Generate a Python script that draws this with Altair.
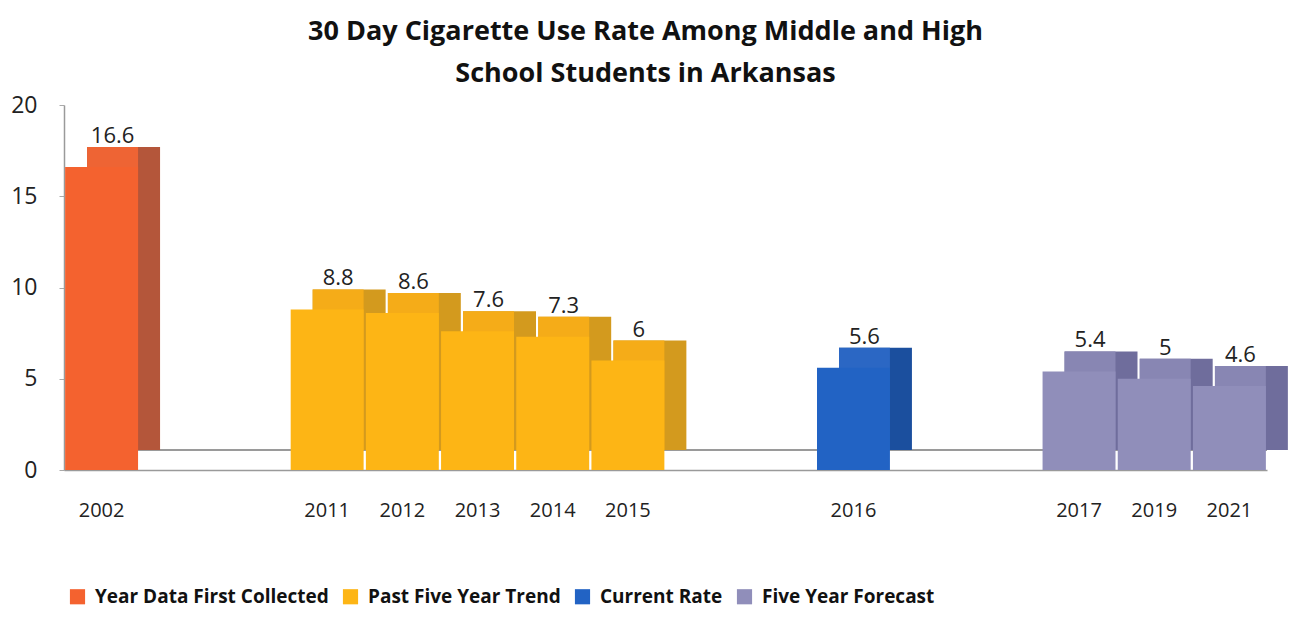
import altair as alt
import pandas as pd

# ---- data ----
years = ["2002", "2011", "2012", "2013", "2014", "2015", "2016", "2017", "2019", "2021"]
values = [16.6, 8.8, 8.6, 7.6, 7.3, 6, 5.6, 5.4, 5, 4.6]
groups = ["Year Data First Collected",
          "Past Five Year Trend", "Past Five Year Trend", "Past Five Year Trend",
          "Past Five Year Trend", "Past Five Year Trend",
          "Current Rate",
          "Five Year Forecast", "Five Year Forecast", "Five Year Forecast"]
group_order = ["Year Data First Collected", "Past Five Year Trend", "Current Rate", "Five Year Forecast"]
# category slots on the x axis (empty slots leave the gaps between groups)
slots = ["2002", "gap1", "gap2", "2011", "2012", "2013", "2014", "2015",
         "gap3", "gap4", "2016", "gap5", "gap6", "2017", "2019", "2021"]
y_ticks = [0, 5, 10, 15, 20]

# ---- styling ----
front_colors = ["#F4622F", "#FDB515", "#2263C4", "#908EBA"]
side_colors = ["#B4563A", "#D39A1E", "#1B4F9E", "#6F6D9C"]
top_colors = ["#EE6434", "#F5AC18", "#2B67C4", "#8886B3"]
FONT = "Open Sans"
W, H = 1203, 365
DX, DY = 22, 20
STEP = W / len(slots)
BAND = 0.97
TOP_BAND = (BAND * STEP - DX) / STEP

df = pd.DataFrame({"year": years, "value": values, "group": groups})

x_enc = alt.X("year:N", scale=alt.Scale(domain=slots, paddingInner=0, paddingOuter=0),
              sort=slots,
              axis=alt.Axis(title=None, labelExpr="indexof(datum.label, 'gap') == 0 ? '' : datum.label",
                            ticks=False, labelAngle=0, labelPadding=30, labelFontSize=20,
                            labelFont=FONT, labelColor="#222", domainColor="#9a9a9a",
                            domainWidth=1.5, labelBaseline="top"))
y_enc = alt.Y("value:Q", scale=alt.Scale(domain=[0, 20], nice=False),
              axis=alt.Axis(title=None, values=y_ticks, grid=False, labelFontSize=23,
                            labelFont=FONT, labelColor="#222", tickColor="#aaaaaa", tickSize=5,
                            labelPadding=22, domainColor="#9a9a9a", domainWidth=1.5))

base = alt.Chart(df)

side = base.mark_bar(width=alt.RelativeBandSize(BAND), xOffset=DX, yOffset=-DY).encode(
    x=x_enc, y=y_enc,
    color=alt.Color("group:N", scale=alt.Scale(domain=group_order, range=side_colors), legend=None))

top = base.mark_bar(width=alt.RelativeBandSize(TOP_BAND), xOffset=DX / 2, yOffset=-DY).encode(
    x=x_enc, y=y_enc,
    color=alt.Color("group:N", scale=alt.Scale(domain=group_order, range=top_colors), legend=None))

front = base.mark_bar(width=alt.RelativeBandSize(BAND)).encode(
    x=x_enc, y=y_enc,
    color=alt.Color("group:N", scale=alt.Scale(domain=group_order, range=front_colors),
                    legend=alt.Legend(title=None, orient="none", legendX=4, legendY=482,
                                      direction="horizontal", symbolType="square",
                                      symbolSize=230, symbolStrokeWidth=0, labelFontSize=19,
                                      labelFontWeight="bold", labelFont=FONT, labelColor="#111",
                                      columnPadding=12, labelLimit=0, labelOffset=8)))

floor_back = base.mark_rule(color="#9a9a9a", strokeWidth=1.5, yOffset=-DY).encode(
    y=alt.datum(0), x=alt.value(DX), x2=alt.value(W))

labels = base.mark_text(dx=DX / 2, dy=-DY - 4, baseline="alphabetic", fontSize=22,
                        font=FONT, color="#222").encode(
    x=x_enc, y=y_enc, text=alt.Text("value:Q"))

chart = alt.layer(floor_back, side, top, front, labels).resolve_scale(color="independent").properties(
    width=W, height=H,
    autosize=alt.AutoSizeParams(type="none"),
    padding={"left": 56, "top": 97, "right": 27, "bottom": 141},
    title=alt.Title(["30 Day Cigarette Use Rate Among Middle and High", "School Students in Arkansas"],
                    font=FONT, fontSize=27, fontWeight="bold", color="#111", lineHeight=42,
                    anchor="middle", dx=-20, offset=6),
).configure(background="white", view=alt.ViewConfig(stroke=None))

chart.save("out.html", embed_options={"renderer": "svg", "actions": False})
